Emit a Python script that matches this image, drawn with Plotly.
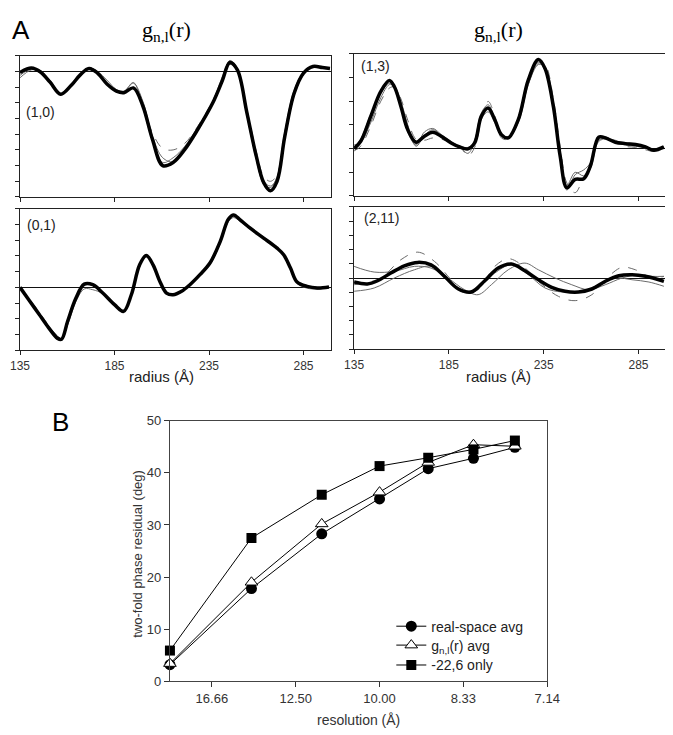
import plotly.graph_objects as go

# ---------- panel A data: g_n,l(r) profiles (arbitrary units, tick = 1) ----------
r10 = [135, 141, 146, 151, 156.5, 162, 167, 171.5, 176, 181, 186, 190, 195, 200, 205, 210.5, 216, 222,
       229, 237, 242, 246, 250, 255, 260, 264, 267.5, 271, 275, 280, 285, 290, 295, 299]
g10_avg = [-0.06, 0.22, -0.05, -0.70, -1.45, -0.90, -0.20, 0.19, -0.10, -0.80, -1.25, -1.35, -1.05, -2.20,
           -4.30, -6.00, -5.80, -5.00, -3.70, -2.00, -0.60, 0.57, 0.10, -2.60, -5.40, -7.10, -7.60, -7.00,
           -4.20, -1.40, -0.10, 0.32, 0.25, 0.19]
g10_a = [-0.25, 0.15, -0.10, -0.55, -1.50, -0.95, -0.30, 0.22, 0.00, -0.55, -1.15, -1.25, -0.75, -1.90,
         -4.10, -5.50, -5.75, -4.90, -3.60, -1.90, -0.35, 0.65, 0.00, -2.80, -5.60, -7.20, -7.40, -6.70,
         -3.90, -1.20, -0.05, 0.30, 0.22, 0.18]
g10_b = [-0.10, 0.25, 0.00, -0.65, -1.35, -0.85, -0.25, 0.15, -0.15, -0.75, -1.20, -1.30, -1.10, -2.10,
         -3.90, -4.90, -5.00, -4.60, -3.50, -1.85, -0.55, 0.45, 0.05, -2.40, -5.10, -6.70, -7.00, -6.60,
         -4.00, -1.30, -0.15, 0.28, 0.22, 0.18]
g10_c = [-0.40, 0.10, 0.05, -0.75, -1.40, -0.80, -0.15, 0.25, -0.05, -0.85, -1.30, -1.30, -0.70, -2.30,
         -4.40, -5.80, -5.50, -4.80, -3.55, -1.95, -0.50, 0.70, 0.20, -2.50, -5.30, -7.00, -7.30, -6.80,
         -4.40, -1.55, -0.20, 0.35, 0.28, 0.20]

r01 = [135, 140, 145, 150, 154.9, 157, 160.2, 164.6, 169, 173.5, 178.8, 185, 189.8, 193.9, 198.3, 201.8,
       205.4, 209, 212.5, 216, 220.5, 224.9, 230.2, 235.5, 240.9, 245.3, 248, 251.5, 256.8, 263.9, 271,
       274.5, 278.1, 281.6, 286.9, 292.3, 298.5]
g01_avg = [0.00, -0.85, -1.70, -2.55, -3.25, -3.30, -2.16, -0.68, 0.21, 0.17, -0.36, -1.10, -1.53, -0.47,
           1.44, 2.03, 1.44, 0.38, -0.36, -0.47, -0.25, 0.17, 0.81, 1.55, 2.92, 4.36, 4.62, 4.30, 3.77,
           3.14, 2.50, 2.08, 1.23, 0.34, 0.06, -0.04, 0.02]
g01_a = [0.00, -0.80, -1.60, -2.45, -3.10, -3.30, -2.40, -0.90, -0.10, -0.15, -0.40, -1.05, -1.45, -0.55,
         1.35, 1.95, 1.40, 0.35, -0.40, -0.50, -0.30, 0.12, 0.75, 1.45, 2.80, 4.20, 4.45, 4.20, 3.70,
         3.10, 2.45, 2.00, 1.15, 0.25, -0.05, -0.10, 0.00]
g01_b = [0.05, -0.75, -1.55, -2.40, -3.15, -3.25, -2.05, -0.60, 0.25, 0.20, -0.30, -1.05, -1.50, -0.40,
         1.50, 2.05, 1.45, 0.40, -0.35, -0.45, -0.20, 0.20, 0.85, 1.60, 2.95, 4.30, 4.55, 4.25, 3.75,
         3.10, 2.50, 2.05, 1.20, 0.30, 0.00, -0.08, 0.00]
g01_c = [-0.05, -0.90, -1.75, -2.60, -3.20, -3.35, -2.30, -0.75, 0.15, 0.12, -0.40, -1.15, -1.50, -0.50,
         1.40, 2.00, 1.40, 0.35, -0.40, -0.50, -0.25, 0.15, 0.80, 1.50, 2.85, 4.40, 4.65, 4.35, 3.80,
         3.20, 2.55, 2.10, 1.25, 0.30, 0.10, -0.10, 0.02]

r13 = [135, 138.5, 143.8, 149.1, 153.6, 156.2, 159.7, 163.3, 167.7, 172.1, 176.5, 180.9, 186.2, 190.7,
       195.1, 198.6, 202.1, 205.7, 209.2, 212.7, 216.3, 221.6, 226.9, 232.2, 235.7, 240.1, 243.7, 247.2,
       251.6, 256.1, 259.6, 264, 267.5, 272.8, 278.1, 283.4, 288.7, 293.1, 298.4]
g13_avg = [0.00, 0.31, 1.36, 2.41, 2.87, 2.62, 1.78, 0.80, 0.27, 0.52, 0.69, 0.52, 0.24, 0.07, -0.01, 0.24,
           1.36, 1.71, 1.22, 0.59, 0.45, 1.22, 2.90, 3.76, 3.38, 1.78, -0.32, -1.65, -1.30, -1.27, -0.74,
           0.48, 0.45, 0.27, 0.21, 0.17, 0.07, -0.07, 0.07]
g13_a = [0.15, 0.25, 1.10, 2.15, 2.70, 2.65, 2.00, 1.00, 0.10, 0.55, 0.80, 0.55, 0.20, 0.05, -0.20, 0.35,
         1.50, 1.85, 1.25, 0.55, 0.50, 1.10, 2.70, 3.55, 3.45, 2.00, -0.10, -1.55, -1.00, -1.15, -0.85,
         0.35, 0.40, 0.30, 0.15, 0.10, 0.02, -0.10, 0.05]
g13_b = [-0.10, 0.10, 0.95, 2.00, 2.55, 2.60, 2.10, 1.20, 0.40, 0.35, 0.45, 0.40, 0.25, 0.10, -0.30, 0.05,
         1.20, 1.99, 1.40, 0.45, 0.40, 1.15, 2.75, 3.60, 3.55, 2.10, 0.10, -1.45, -1.86, -1.20, -0.70,
         0.30, 0.40, 0.35, 0.10, 0.05, -0.05, -0.12, 0.00]
g13_c = [0.05, 0.40, 1.45, 2.35, 2.75, 2.55, 1.70, 0.70, 0.15, 0.70, 0.85, 0.60, 0.30, 0.10, 0.05, 0.30,
         1.25, 1.55, 1.10, 0.60, 0.50, 1.30, 2.95, 3.65, 3.30, 1.65, -0.40, -1.75, -1.10, -0.90, -0.60,
         0.50, 0.50, 0.30, 0.25, 0.20, 0.10, -0.05, 0.08]

r211 = [135, 142, 147.4, 154.4, 161.5, 168.6, 175.6, 182.7, 189.8, 196.8, 203.9, 211, 218, 225.1, 232.2,
        239.2, 246.3, 253.4, 260.4, 267.5, 274.6, 281.6, 288.7, 298.4]
g211_avg = [-0.28, -0.42, -0.19, 0.35, 0.86, 1.10, 0.93, 0.12, -0.75, -0.98, -0.19, 0.70, 0.98, 0.51,
            -0.12, -0.65, -0.93, -0.98, -0.77, -0.23, 0.16, 0.23, 0.12, -0.23]
r211_b = [135, 149.1, 159.7, 168.6, 177.4, 186.2, 193.3, 200.4, 209.2, 216.3, 223.3, 232.2, 242.8, 251.6,
          260.4, 269.3, 276.3, 283.4, 292.2, 298.4]
g211_b = [-0.47, 0.00, 1.29, 1.82, 1.17, -0.12, -1.05, -0.82, 0.82, 1.36, 0.93, -0.23, -1.29, -1.59,
          -1.17, 0.12, 0.75, 0.58, 0.00, 0.12]
r211_a = [135, 145.6, 156.2, 166.8, 175.6, 184.5, 193.3, 200.4, 207.4, 216.3, 225.1, 232.2, 241, 249.8,
          258.7, 267.5, 276.3, 285.2, 292.2, 298.4]
g211_a = [0.82, 0.42, 0.47, 0.82, 0.70, 0.00, -0.82, -1.17, -0.47, 0.58, 1.05, 0.58, 0.00, -0.47, -0.82,
          -0.47, 0.00, 0.23, 0.12, 0.12]
r211_c = [135, 145.6, 156.2, 166.8, 175.6, 184.5, 193.3, 200.4, 209.2, 218, 226.9, 235.7, 244.5, 255.1,
          264, 272.8, 281.6, 290.5, 298.4]
g211_c = [-0.93, -0.70, 0.00, 0.58, 0.82, -0.12, -0.93, -0.70, 0.35, 0.93, 0.23, -0.70, -0.98, -0.93,
          -0.47, 0.00, -0.12, -0.28, -0.58]

# ---------- panel B data ----------
resolution = [20.0, 14.4, 11.6, 10.0, 8.96, 8.17, 7.56]
real_space = [3.2, 17.8, 28.3, 35.0, 40.8, 42.8, 44.9]
gnl_avg = [3.4, 19.0, 30.2, 36.3, 42.0, 45.4, 45.1]
only_22_6 = [5.9, 27.5, 35.8, 41.3, 42.9, 44.5, 46.2]
res_ticks = ["16.66", "12.50", "10.00", "8.33", "7.14"]

W, H = 673, 735
# the page puts the paper at about x 19..665, y 9..733 of the window
def px(x): return (x - 19) / 646
def py(y): return 1 - (y - 9) / 724

fig = go.Figure()

panels = [
    # (axis suffix, r, avg, [(r, y, dash)...])
    ("", r10, g10_avg, [(r10, g10_a, "solid"), (r10, g10_b, "dash"), (r10, g10_c, "solid")]),
    ("2", r01, g01_avg, [(r01, g01_a, "solid"), (r01, g01_b, "dash"), (r01, g01_c, "solid")]),
    ("3", r13, g13_avg, [(r13, g13_a, "solid"), (r13, g13_b, "dash"), (r13, g13_c, "solid")]),
    ("4", r211, g211_avg, [(r211_a, g211_a, "solid"), (r211_b, g211_b, "dash"), (r211_c, g211_c, "solid")]),
]
for ax, r, avg, thins in panels:
    for rr, yy, d in thins:
        fig.add_trace(go.Scatter(x=rr, y=yy, mode="lines", showlegend=False,
                                 line=dict(color="#6a6a6a", width=1, dash=d, shape="spline", smoothing=1),
                                 xaxis="x" + ax, yaxis="y" + ax))
    fig.add_trace(go.Scatter(x=r, y=avg, mode="lines", showlegend=False,
                             line=dict(color="black", width=3.5, shape="spline", smoothing=1),
                             xaxis="x" + ax, yaxis="y" + ax))

freq = [1 / v for v in resolution]
fig.add_trace(go.Scatter(x=freq, y=real_space, name="real-space avg", mode="lines+markers",
                         line=dict(color="black", width=1), cliponaxis=False, legend="legend",
                         marker=dict(symbol="circle", size=11, color="black"),
                         xaxis="x5", yaxis="y5"))
fig.add_trace(go.Scatter(x=freq, y=gnl_avg, name="g<sub>n,l</sub>(r) avg", mode="lines+markers",
                         line=dict(color="black", width=1), cliponaxis=False, legend="legend2",
                         marker=dict(symbol="triangle-up", size=11, color="white",
                                     line=dict(color="black", width=1)),
                         xaxis="x5", yaxis="y5"))
fig.add_trace(go.Scatter(x=freq, y=only_22_6, name="-22,6 only", mode="lines+markers",
                         line=dict(color="black", width=1), cliponaxis=False, legend="legend3",
                         marker=dict(symbol="square", size=10, color="black"),
                         xaxis="x5", yaxis="y5"))

FONT = "Liberation Sans, Arial, sans-serif"
frame = dict(showline=True, mirror=True, linecolor="#222", linewidth=1.3, showgrid=False)

def rx(dom, anchor, labels):
    return dict(domain=dom, anchor=anchor, range=[135, 299.5], tickvals=[135, 185, 235, 285],
                ticks="outside", ticklen=4, tickcolor="#222", showticklabels=labels, zeroline=False,
                tickfont=dict(size=12, color="#333", family=FONT), **frame)

def ry(dom, anchor, lo, hi):
    return dict(domain=dom, anchor=anchor, range=[lo, hi], dtick=1, ticks="outside", ticklen=4,
                tickcolor="#222", showticklabels=False, zeroline=True, zerolinecolor="#111",
                zerolinewidth=1, **frame)

# second copy of each y axis, only to draw the inner half of the crossing tick marks
def ry_in(dom, anchor, lo, hi):
    return dict(domain=dom, anchor=anchor, range=[lo, hi], dtick=1, ticks="inside", ticklen=3,
                tickcolor="#222", showticklabels=False, zeroline=False, showgrid=False,
                showline=False)

def leg(yc):
    return dict(x=px(390), y=py(yc), xanchor="left", yanchor="middle", bgcolor="rgba(0,0,0,0)",
                font=dict(size=14, color="#222"))

xl = [px(21), px(330)]
xr = [px(353), px(663)]
d1, d2, d3, d4 = [py(192), py(50)], [py(346), py(204)], [py(191), py(48)], [py(345), py(202)]
fig.update_layout(
    width=W, height=H, margin=dict(l=0, r=0, t=0, b=0),
    paper_bgcolor="white", plot_bgcolor="white",
    font=dict(family=FONT, color="#222"),
    xaxis=rx(xl, "y", False), yaxis=ry(d1, "x", -8, 1),
    xaxis2=rx(xl, "y2", True), yaxis2=ry(d2, "x2", -4, 5),
    xaxis3=rx(xr, "y3", False), yaxis3=ry(d3, "x3", -2, 4),
    xaxis4=rx(xr, "y4", True), yaxis4=ry(d4, "x4", -5, 5),
    yaxis6=dict(ry_in(d1, "x", -8, 1), overlaying="y"),
    yaxis7=dict(ry_in(d2, "x2", -4, 5), overlaying="y2"),
    yaxis8=dict(ry_in(d3, "x3", -2, 4), overlaying="y3"),
    yaxis9=dict(ry_in(d4, "x4", -5, 5), overlaying="y4"),
    xaxis5=dict(domain=[px(170), px(545)], anchor="y5", range=[0.05, 0.14],
                tickvals=[0.06, 0.08, 0.10, 0.12, 0.14],
                ticktext=res_ticks, ticks="outside", ticklen=5, tickcolor="#333", zeroline=False,
                tickfont=dict(size=13, color="#333"), showline=True, mirror=True, linecolor="#444",
                linewidth=1, showgrid=False),
    yaxis5=dict(domain=[py(679), py(417)], anchor="x5", range=[0, 50], dtick=10, ticks="outside",
                ticklen=5, tickcolor="#333", zeroline=False, tickfont=dict(size=13, color="#333"),
                showline=True, mirror=True, linecolor="#444", linewidth=1, showgrid=False),
    legend=leg(624), legend2=leg(643), legend3=leg(663),
)

ann = [
    dict(x=px(22), y=py(24), text="A", font=dict(size=26, color="black")),
    dict(x=px(61), y=py(418), text="B", font=dict(size=26, color="black")),
    dict(x=px(167), y=py(25), text="g<sub>n,l</sub>(r)",
         font=dict(size=22, color="black", family="Liberation Serif, Times New Roman, serif")),
    dict(x=px(497), y=py(25), text="g<sub>n,l</sub>(r)",
         font=dict(size=22, color="black", family="Liberation Serif, Times New Roman, serif")),
    dict(x=px(162), y=py(373), text="radius (Å)", font=dict(size=15, color="#222")),
    dict(x=px(497), y=py(373), text="radius (Å)", font=dict(size=15, color="#222")),
    dict(x=px(357), y=py(718), text="resolution (Å)", font=dict(size=14, color="#333")),
    dict(x=px(137), y=py(551), text="two-fold phase residual (deg)", textangle=-90,
         font=dict(size=13, color="#333")),
]
for a in ann:
    fig.add_annotation(xref="paper", yref="paper", showarrow=False, xanchor="center",
                       yanchor="middle", **a)

for x, y, t in [(25, 107, "(1,0)"), (26, 220, "(0,1)"), (358, 60, "(1,3)"), (361, 213, "(2,11)")]:
    fig.add_annotation(xref="paper", yref="paper", x=px(x), y=py(y), text=t, xanchor="left",
                       yanchor="middle", showarrow=False, font=dict(size=14, color="#222"))

fig.write_html("out.html")
